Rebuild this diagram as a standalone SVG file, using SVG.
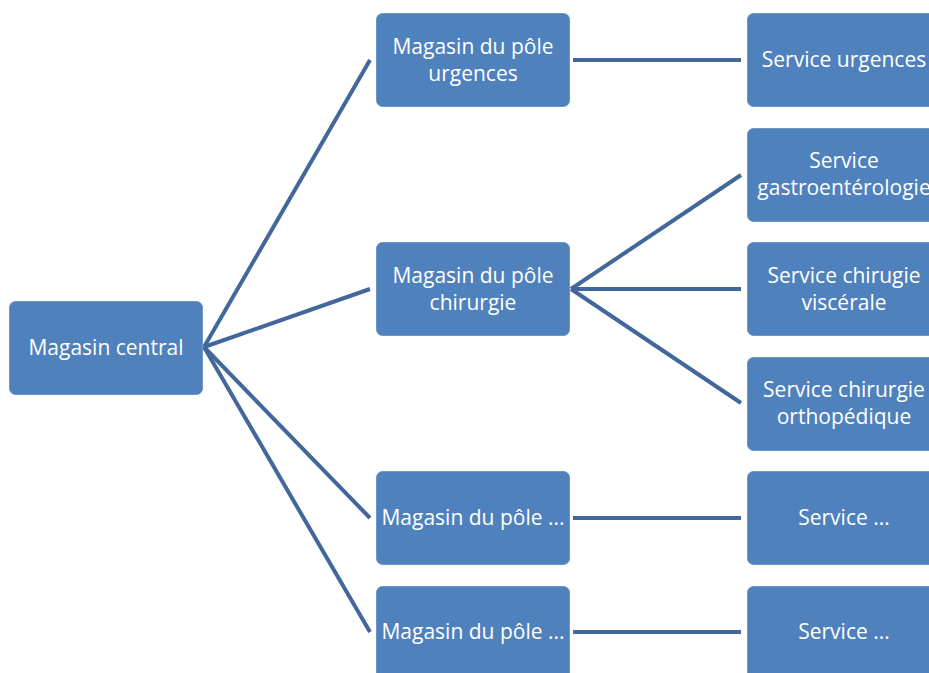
<svg xmlns="http://www.w3.org/2000/svg" width="929" height="673" viewBox="0 0 929 673">
<style>
.box{fill:#4f81bd;stroke:#6d95c8;stroke-width:1}
.t{font-family:"Open Sans","Liberation Sans",Arial,sans-serif;font-size:21px;fill:#ffffff;text-anchor:middle}
.c{stroke:#42679b;stroke-width:4;fill:none}
</style>
<rect width="929" height="673" fill="#ffffff"/>
<g id="connectors">
<line class="c" x1="204" y1="347" x2="370" y2="60"/>
<line class="c" x1="204" y1="347" x2="370" y2="289"/>
<line class="c" x1="204" y1="347" x2="370" y2="518"/>
<line class="c" x1="204" y1="347" x2="370" y2="632"/>
<line class="c" x1="573" y1="60" x2="741" y2="60"/>
<line class="c" x1="571" y1="289" x2="741" y2="175"/>
<line class="c" x1="571" y1="289" x2="741" y2="289"/>
<line class="c" x1="571" y1="289" x2="741" y2="403"/>
<line class="c" x1="573" y1="518" x2="741" y2="518"/>
<line class="c" x1="573" y1="632" x2="741" y2="632"/>
</g>
<g id="central"><rect class="box" x="9.5" y="301.5" width="193" height="93" rx="6"/><text class="t" x="106" y="355">Magasin central</text></g>
<g id="pole-urgences"><rect class="box" x="376.5" y="13.5" width="193" height="93" rx="6"/><text class="t" x="473" y="54">Magasin du pôle</text><text class="t" x="473" y="81">urgences</text></g>
<g id="pole-chirurgie"><rect class="box" x="376.5" y="242.5" width="193" height="93" rx="6"/><text class="t" x="473" y="283">Magasin du pôle</text><text class="t" x="473" y="310">chirurgie</text></g>
<g id="pole-3"><rect class="box" x="376.5" y="471.5" width="193" height="93" rx="6"/><text class="t" x="473" y="525">Magasin du pôle ...</text></g>
<g id="pole-4"><rect class="box" x="376.5" y="586.5" width="193" height="93" rx="6"/><text class="t" x="473" y="639">Magasin du pôle ...</text></g>
<g id="service-urgences"><rect class="box" x="747.5" y="13.5" width="193" height="93" rx="6"/><text class="t" x="844" y="67">Service urgences</text></g>
<g id="service-gastro"><rect class="box" x="747.5" y="128.5" width="193" height="93" rx="6"/><text class="t" x="844" y="168">Service</text><text class="t" x="844" y="195">gastroentérologie</text></g>
<g id="service-visc"><rect class="box" x="747.5" y="242.5" width="193" height="93" rx="6"/><text class="t" x="844" y="283">Service chirugie</text><text class="t" x="844" y="310">viscérale</text></g>
<g id="service-ortho"><rect class="box" x="747.5" y="357.5" width="193" height="93" rx="6"/><text class="t" x="844" y="397">Service chirurgie</text><text class="t" x="844" y="424">orthopédique</text></g>
<g id="service-5"><rect class="box" x="747.5" y="471.5" width="193" height="93" rx="6"/><text class="t" x="844" y="525">Service ...</text></g>
<g id="service-6"><rect class="box" x="747.5" y="586.5" width="193" height="93" rx="6"/><text class="t" x="844" y="639">Service ...</text></g>
</svg>
